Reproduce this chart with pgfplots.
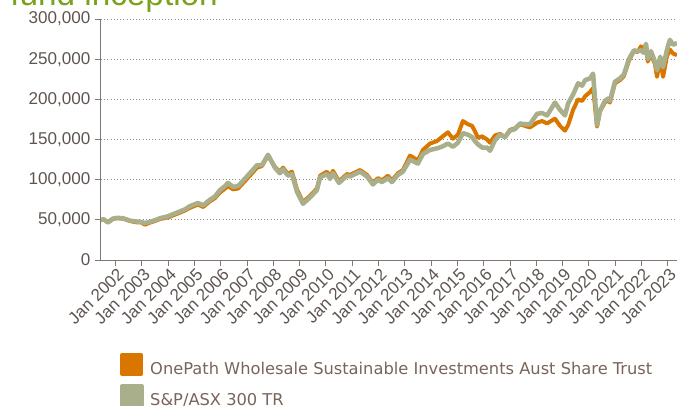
\documentclass[border=0pt]{standalone}
\usepackage{pgfplots}
\pgfplotsset{compat=1.18}
\usepackage{pgfplotstable}
\usepackage{fontspec}
\setmainfont{Liberation Sans}
\newfontfamily\legfont{DejaVu Sans}
\definecolor{fundorange}{RGB}{217,118,0}
\definecolor{idxgreen}{RGB}{168,175,138}
\definecolor{ticktext}{RGB}{95,85,80}
\definecolor{legtext}{RGB}{120,100,90}
\definecolor{titlegreen}{RGB}{122,162,30}
\definecolor{axisgray}{RGB}{130,120,115}

\pgfplotstableread{
x fund idx
2001.45 50000 50000
2001.56 50500 50500
2001.71 46500 47000
2001.90 51000 51500
2002.06 52000 52500
2002.29 51500 52000
2002.55 48500 49000
2002.78 47000 48000
2002.97 47000 47500
2003.12 44000 46000
2003.31 46500 47500
2003.50 48500 49500
2003.69 51000 52000
2004.00 53000 54500
2004.34 57500 59000
2004.64 61500 63000
2004.83 65000 67000
2005.14 69000 71000
2005.33 66000 68000
2005.59 73000 75000
2005.78 77000 79000
2005.97 84000 87000
2006.13 88000 91000
2006.28 92000 96000
2006.47 88000 91000
2006.66 89000 92000
2007.00 101000 104000
2007.38 115000 118000
2007.57 117000 118000
2007.80 130000 131000
2008.06 116000 115000
2008.25 110000 108000
2008.37 115000 113000
2008.56 107000 105000
2008.71 110000 107000
2008.90 88000 85000
2009.13 72000 70000
2009.40 80000 78000
2009.66 89000 87000
2009.78 105000 103000
2010.04 110000 107000
2010.16 104000 101000
2010.27 111000 108000
2010.50 98000 96000
2010.80 107000 105000
2010.92 106000 104000
2011.30 112000 110000
2011.56 106000 104000
2011.79 96000 94000
2011.98 102000 100000
2012.13 99000 97000
2012.36 105000 102000
2012.51 99000 97000
2012.74 108000 106000
2012.93 112000 110000
2013.20 130000 125000
2013.50 124000 120000
2013.69 137000 132000
2013.96 145000 137000
2014.22 148000 139000
2014.41 153000 141000
2014.64 159000 145000
2014.83 151000 141000
2015.02 156000 146000
2015.21 173000 158000
2015.40 169000 156000
2015.56 167000 153000
2015.67 160000 148000
2015.78 152000 144000
2015.94 154000 140000
2016.13 150000 140000
2016.24 146000 136000
2016.43 155000 149000
2016.62 157000 156000
2016.81 153000 153000
2017.00 162000 161000
2017.19 164000 163000
2017.38 169000 170000
2017.57 167000 169000
2017.76 165000 169000
2018.03 171000 182000
2018.22 173000 183000
2018.41 170000 180000
2018.71 176000 196000
2018.90 167000 187000
2019.09 161000 180000
2019.21 168000 195000
2019.40 187000 206000
2019.59 200000 220000
2019.74 198000 217000
2019.86 204000 224000
2020.04 209000 226000
2020.16 214000 232000
2020.31 166000 168000
2020.42 185000 186000
2020.61 196000 198000
2020.73 199000 201000
2020.80 196000 198000
2020.99 220000 222000
2021.18 224000 226000
2021.33 229000 231000
2021.52 248000 250000
2021.71 260000 261000
2021.86 259000 260000
2021.98 266000 261000
2022.09 261000 258000
2022.17 269000 269000
2022.24 247000 250000
2022.36 256000 260000
2022.51 244000 247000
2022.59 228000 236000
2022.71 250000 253000
2022.82 228000 240000
2022.97 254000 262000
2023.08 262000 274000
2023.20 257000 268000
2023.35 255000 270000
}\perfdata

\begin{document}
\begin{tikzpicture}
\begin{axis}[
  scale only axis, width=432pt, height=180.75pt,
  xmin=2001.45, xmax=2023.35, ymin=0, ymax=300000,
  axis x line=bottom, axis y line=left,
  axis line style={-, draw=axisgray, line width=0.75pt},
  ytick={0,50000,100000,150000,200000,250000,300000},
  scaled y ticks=false,
  yticklabel style={font=\fontsize{12.8}{14}\selectfont, text=ticktext,
    /pgf/number format/.cd, fixed, 1000 sep={,}, assume math mode=true},
  xtick={2002,2003,2004,2005,2006,2007,2008,2009,2010,2011,2012,2013,2014,2015,2016,2017,2018,2019,2020,2021,2022,2023},
  xticklabels={Jan 2002,Jan 2003,Jan 2004,Jan 2005,Jan 2006,Jan 2007,Jan 2008,Jan 2009,Jan 2010,Jan 2011,Jan 2012,Jan 2013,Jan 2014,Jan 2015,Jan 2016,Jan 2017,Jan 2018,Jan 2019,Jan 2020,Jan 2021,Jan 2022,Jan 2023},
  xticklabel style={rotate=45, anchor=north east, font=\fontsize{12.8}{14}\selectfont, text=ticktext, inner sep=1pt, xshift=1pt},
  tick align=outside, major tick length=4.5pt,
  tick style={draw=axisgray, line width=0.6pt},
  ymajorgrids, grid style={dotted, draw=gray!90, line width=0.6pt},
  legend image code/.code={\fill[#1] (0pt,-3.5pt) rectangle (14.25pt,10.75pt);},
  legend style={at={(axis description cs:0.033,-0.386)}, anchor=north west,
    draw=none, fill=none, inner sep=0pt, outer sep=0pt,
    font=\legfont\fontsize{12.2}{14}\selectfont, text=legtext,
    column sep=5pt, row sep=3.75pt,
    nodes={inner sep=0pt, text height=11pt, text depth=3pt}},
  legend cell align=left,
]
\addplot[color=fundorange, line width=3pt, line join=round] table[x=x, y=fund] {\perfdata};
\addlegendentry{OnePath Wholesale Sustainable Investments Aust Share Trust}
\addplot[color=idxgreen, line width=3.4pt, line join=round] table[x=x, y=idx] {\perfdata};
\addlegendentry{S\&P/ASX 300 TR}
\end{axis}
\node[anchor=base west, inner sep=0pt, font=\fontsize{25}{30}\selectfont, text=titlegreen] at (-68.25pt,191.25pt) {fund inception};
\pgfresetboundingbox
\path (-75.75pt,-108.75pt) rectangle (432pt,195pt);
\end{tikzpicture}
\end{document}
